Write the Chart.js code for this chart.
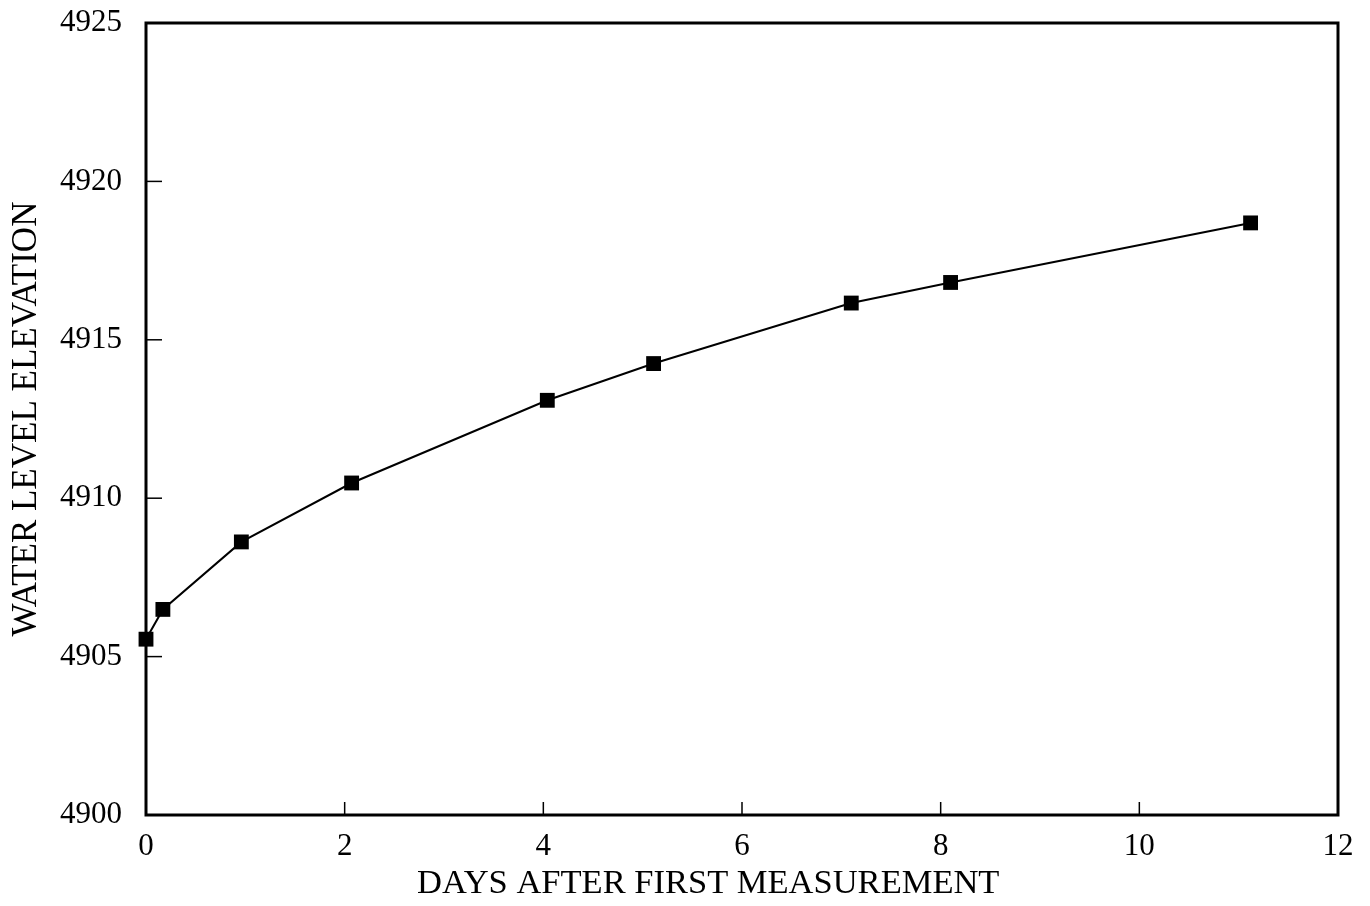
<!DOCTYPE html>
<html lang="en">
<head>
<meta charset="UTF-8">
<title>Water Level Elevation</title>
<script src="https://cdn.jsdelivr.net/npm/chart.js"></script>
<style>
    body { margin: 0; background: #fff; }
    #wrap { width: 1370px; height: 906px; }
</style>
</head>
<body>
<div id="wrap"><canvas id="chart" width="1370" height="906"></canvas></div>
<script>
    // values
    const days = [0, 0.17, 0.96, 2.07, 4.04, 5.11, 7.10, 8.10, 11.12];
    const elevation = [4905.55, 4906.49, 4908.62, 4910.48, 4913.09, 4914.25, 4916.16, 4916.81, 4918.69];
    const xTicks = [0, 2, 4, 6, 8, 10, 12];
    const yTicks = [4900, 4905, 4910, 4915, 4920, 4925];
    const xTitle = 'DAYS AFTER FIRST MEASUREMENT';
    const yTitle = 'WATER LEVEL ELEVATION';

    const serif = '"Liberation Serif", "DejaVu Serif", serif';

    // frame around plot area, inward tick marks, x title (sits a bit left of centre in the original)
    const framePlugin = {
        id: 'frame',
        beforeDatasetsDraw(chart) {
            const ctx = chart.ctx;
            const a = chart.chartArea;
            const xs = chart.scales.x, ys = chart.scales.y;
            ctx.save();
            ctx.strokeStyle = '#000';
            ctx.lineWidth = 1.5;
            xTicks.slice(1, -1).forEach(v => {
                const px = xs.getPixelForValue(v);
                ctx.beginPath();
                ctx.moveTo(px, a.bottom);
                ctx.lineTo(px, a.bottom - 13);
                ctx.stroke();
            });
            yTicks.slice(1, -1).forEach(v => {
                const py = ys.getPixelForValue(v);
                ctx.beginPath();
                ctx.moveTo(a.left, py);
                ctx.lineTo(a.left + 16, py);
                ctx.stroke();
            });
            ctx.lineWidth = 3;
            ctx.strokeRect(a.left, a.top, a.right - a.left, a.bottom - a.top);

            ctx.fillStyle = '#000';
            ctx.font = '34.5px ' + serif;
            ctx.textAlign = 'center';
            ctx.textBaseline = 'middle';
            ctx.fillText(xTitle, xs.getPixelForValue(5.66), xs.bottom - 22);
            ctx.restore();
        }
    };

    new Chart(document.getElementById('chart'), {
        type: 'scatter',
        data: {
            datasets: [{
                data: days.map((d, i) => ({ x: d, y: elevation[i] })),
                showLine: true,
                borderColor: '#000',
                borderWidth: 2,
                backgroundColor: '#000',
                pointStyle: 'rect',
                pointRadius: 10.5,
                pointBorderWidth: 0,
                clip: false
            }]
        },
        options: {
            responsive: false,
            animation: false,
            layout: { padding: { top: 23, right: 32, left: 0, bottom: 0 } },
            plugins: { legend: { display: false }, tooltip: { enabled: false } },
            scales: {
                x: {
                    type: 'linear',
                    min: 0, max: 12,
                    afterBuildTicks: s => { s.ticks = xTicks.map(v => ({ value: v })); },
                    afterFit: s => { s.height = 91; },
                    grid: { display: false, drawTicks: false },
                    border: { display: false },
                    ticks: { color: '#000', padding: 13, font: { family: serif, size: 31 }, callback: v => String(v) }
                },
                y: {
                    min: 4900, max: 4925,
                    afterBuildTicks: s => { s.ticks = yTicks.map(v => ({ value: v })); },
                    afterFit: s => { s.width = 146; s.paddingTop = 0; s.paddingBottom = 0; },
                    grid: { display: false, drawTicks: false },
                    border: { display: false },
                    ticks: { color: '#000', padding: 24, font: { family: serif, size: 31 }, callback: v => String(v) },
                    title: {
                        display: true,
                        text: yTitle,
                        color: '#000',
                        padding: { top: 6, bottom: 0 },
                        font: { family: serif, size: 35 }
                    }
                }
            }
        },
        plugins: [framePlugin]
    });
</script>
</body>
</html>
